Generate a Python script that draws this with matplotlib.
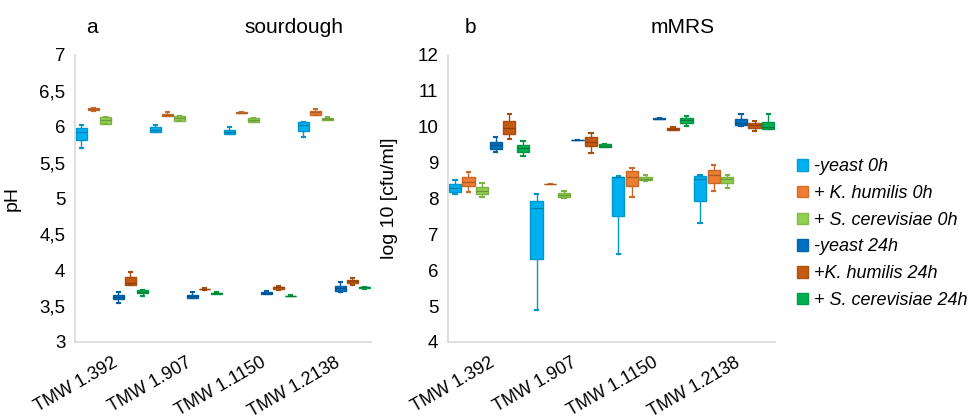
import matplotlib
matplotlib.use("Agg")
import matplotlib.pyplot as plt
from matplotlib.patches import Patch
import matplotlib.colors as mcolors

plt.rcParams['font.family'] = ['Liberation Sans', 'DejaVu Sans']

categories = ["TMW 1.392", "TMW 1.907", "TMW 1.1150", "TMW 1.2138"]
series_names = ["-yeast 0h", "+ K. humilis 0h", "+ S. cerevisiae 0h",
                "-yeast 24h", "+K. humilis 24h", "+ S. cerevisiae 24h"]
series_colors = ["#00B0F0", "#ED7D31", "#92D050", "#0070C0", "#C55A11", "#00B050"]

# (whisker low, q1, median, q3, whisker high) per category
ph_yeast_0h = [(5.71, 5.81, 5.93, 5.98, 6.02), (5.92, 5.93, 5.96, 6.00, 6.03),
               (5.90, 5.90, 5.92, 5.95, 5.99), (5.86, 5.94, 6.02, 6.06, 6.07)]
ph_khum_0h = [(6.22, 6.24, 6.25, 6.26, 6.26), (6.15, 6.15, 6.17, 6.18, 6.20),
              (6.19, 6.19, 6.19, 6.20, 6.20), (6.16, 6.17, 6.20, 6.22, 6.25)]
ph_scer_0h = [(6.04, 6.04, 6.09, 6.13, 6.13), (6.08, 6.08, 6.12, 6.15, 6.15),
              (6.07, 6.07, 6.09, 6.12, 6.12), (6.10, 6.10, 6.11, 6.12, 6.13)]
ph_yeast_24h = [(3.55, 3.595, 3.63, 3.66, 3.70), (3.61, 3.62, 3.64, 3.655, 3.69),
                (3.67, 3.67, 3.68, 3.69, 3.71), (3.70, 3.71, 3.75, 3.78, 3.83)]
ph_khum_24h = [(3.79, 3.79, 3.82, 3.90, 3.97), (3.73, 3.735, 3.74, 3.745, 3.75),
               (3.72, 3.74, 3.76, 3.77, 3.78), (3.79, 3.82, 3.85, 3.87, 3.89)]
ph_scer_24h = [(3.64, 3.68, 3.70, 3.72, 3.72), (3.67, 3.675, 3.68, 3.685, 3.69),
               (3.635, 3.64, 3.64, 3.645, 3.65), (3.74, 3.75, 3.76, 3.77, 3.77)]

cfu_yeast_0h = [(8.12, 8.19, 8.30, 8.40, 8.51), (4.89, 6.31, 7.73, 7.94, 8.13),
                (6.44, 7.51, 8.60, 8.61, 8.62), (7.31, 7.93, 8.55, 8.63, 8.66)]
cfu_khum_0h = [(8.19, 8.35, 8.47, 8.61, 8.74), (8.39, 8.39, 8.40, 8.41, 8.41),
               (8.04, 8.35, 8.61, 8.77, 8.86), (8.22, 8.44, 8.66, 8.79, 8.92)]
cfu_scer_0h = [(8.05, 8.12, 8.20, 8.31, 8.44), (8.02, 8.05, 8.10, 8.16, 8.22),
               (8.49, 8.51, 8.55, 8.60, 8.66), (8.30, 8.43, 8.55, 8.61, 8.66)]
cfu_yeast_24h = [(9.30, 9.38, 9.50, 9.58, 9.70), (9.62, 9.62, 9.63, 9.64, 9.64),
                 (10.21, 10.21, 10.22, 10.23, 10.23), (10.02, 10.04, 10.10, 10.22, 10.36)]
cfu_khum_24h = [(9.67, 9.80, 9.97, 10.16, 10.36), (9.26, 9.45, 9.58, 9.72, 9.82),
                (9.90, 9.91, 9.94, 9.97, 10.00), (9.89, 9.97, 10.05, 10.11, 10.16)]
cfu_scer_24h = [(9.19, 9.30, 9.41, 9.50, 9.61), (9.43, 9.43, 9.47, 9.52, 9.53),
                (10.03, 10.11, 10.18, 10.24, 10.29), (9.93, 9.93, 10.00, 10.14, 10.35)]

ph_series = [ph_yeast_0h, ph_khum_0h, ph_scer_0h, ph_yeast_24h, ph_khum_24h, ph_scer_24h]
cfu_series = [cfu_yeast_0h, cfu_khum_0h, cfu_scer_0h, cfu_yeast_24h, cfu_khum_24h, cfu_scer_24h]

ph_ticks = [3, 3.5, 4, 4.5, 5, 5.5, 6, 6.5, 7]
ph_ticklabels = ["3", "3,5", "4", "4,5", "5", "5,5", "6", "6,5", "7"]
cfu_ticks = [4, 5, 6, 7, 8, 9, 10, 11, 12]
cfu_ticklabels = [str(t) for t in cfu_ticks]


def darker(c, f=0.8):
    r, g, b = mcolors.to_rgb(c)
    return (r * f, g * f, b * f)


def draw_panel(ax, series, ylim, ticks, ticklabels):
    n = len(series)
    for j, (data, col) in enumerate(zip(series, series_colors)):
        stats = []
        pos = []
        for i, (lo, q1, med, q3, hi) in enumerate(data):
            stats.append(dict(whislo=lo, q1=q1, med=med, q3=q3, whishi=hi, fliers=[]))
            pos.append(i + (j + 0.5) / n)
        ec = darker(col, 0.85)
        ax.bxp(stats, positions=pos, widths=0.9 / n, patch_artist=True,
               showfliers=False, manage_ticks=False,
               boxprops=dict(facecolor=col, edgecolor=ec, linewidth=1.0),
               medianprops=dict(color=darker(col, 0.72), linewidth=0.9),
               whiskerprops=dict(color=ec, linewidth=1.0),
               capprops=dict(color=ec, linewidth=1.5), capwidths=0.25 / n)
    ax.set_xlim(0, len(categories))
    ax.set_ylim(*ylim)
    ax.set_yticks(ticks)
    ax.set_yticklabels(ticklabels, fontsize=13.5)
    ax.set_xticks([i + 0.5 for i in range(len(categories))])
    ax.set_xticklabels(categories, rotation=30, ha='right', rotation_mode='anchor',
                       fontsize=13)
    ax.tick_params(length=0)
    ax.tick_params(axis='y', pad=7)
    ax.tick_params(axis='x', pad=9)
    for s in ['top', 'right']:
        ax.spines[s].set_visible(False)
    for s in ['left', 'bottom']:
        ax.spines[s].set_color('#D9D9D9')
        ax.spines[s].set_linewidth(1.2)


fig = plt.figure(figsize=(9.75, 4.19), dpi=100)
ax1 = fig.add_axes([0.0769, 0.1838, 0.3036, 0.6850])
ax2 = fig.add_axes([0.4595, 0.1838, 0.3354, 0.6850])

draw_panel(ax1, ph_series, (3, 7), ph_ticks, ph_ticklabels)
draw_panel(ax2, cfu_series, (4, 12), cfu_ticks, cfu_ticklabels)

ax1.set_ylabel("pH", fontsize=14)
ax2.set_ylabel("log 10 [cfu/ml]", fontsize=14)
ax1.yaxis.set_label_coords((21 - 75) / 296, 0.5)
ax2.yaxis.set_label_coords((398 - 448) / 327, 0.5)

fig.text(92 / 975, 1 - 33 / 419, "a", fontsize=15, ha='center', va='baseline')
fig.text(293.5 / 975, 1 - 33 / 419, "sourdough", fontsize=15, ha='center', va='baseline')
fig.text(470 / 975, 1 - 33 / 419, "b", fontsize=15, ha='center', va='baseline')
fig.text(683 / 975, 1 - 33 / 419, "mMRS", fontsize=15, ha='center', va='baseline')

handles = [Patch(facecolor=c, edgecolor=darker(c, 0.9), label=n)
           for n, c in zip(series_names, series_colors)]
fig.legend(handles=handles, loc='upper left', bbox_to_anchor=(790 / 975, 1 - 151 / 419),
           frameon=False, prop=dict(size=13, style='italic'),
           handlelength=0.62, handleheight=0.62, handletextpad=0.3, labelspacing=0.54,
           borderaxespad=0)

fig.savefig("out.png", dpi=100)
